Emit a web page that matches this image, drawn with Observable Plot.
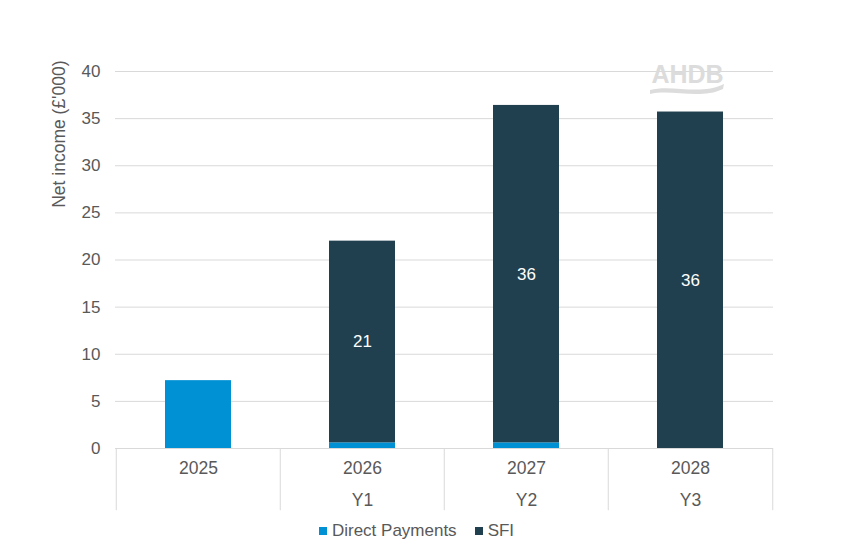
<!DOCTYPE html>
<html><head><meta charset="utf-8">
<script src="https://cdn.jsdelivr.net/npm/d3@7"></script>
<script src="https://cdn.jsdelivr.net/npm/@observablehq/plot@0.6"></script>
<style>
body{margin:0;background:#fff;font-family:Arial,"Liberation Sans",sans-serif;}
#legend{width:855px;display:flex;justify-content:center;align-items:center;gap:18px;font-size:17px;color:#595959;height:32px;margin-top:0px;transform:translateX(-11px);}
#legend span.sw{display:inline-block;width:8px;height:8px;margin-right:5px;}
#legend .item{display:flex;align-items:center;}
</style>
</head><body>
<div id="chart"></div>
<script>
// ---- data ----
const years = ["2025", "2026", "2027", "2028"];
const schemeYears = ["", "Y1", "Y2", "Y3"];
const seriesNames = ["Direct Payments", "SFI"];
const directPayments = [7.2, 0.6, 0.6, 0];
const sfi = [0, 21.4, 35.8, 35.7];
const yTicks = [0, 5, 10, 15, 20, 25, 30, 35, 40];
const colors = ["#0090d4", "#21404f"];

const rows = [];
years.forEach((y, i) => {
  rows.push({year: y, series: seriesNames[0], value: directPayments[i]});
  rows.push({year: y, series: seriesNames[1], value: sfi[i]});
});

const W = 855, H = 515, mL = 115, mR = 82, mT = 71, mB = 67;
const step = (W - mL - mR) / years.length;
const grey = "#d9d9d9", textGrey = "#595959";

const plot = Plot.plot({
  width: W, height: H,
  marginLeft: mL, marginRight: mR, marginTop: mT, marginBottom: mB,
  style: {fontFamily: "Arial, 'Liberation Sans', sans-serif", background: "white"},
  x: {domain: years, paddingInner: 0.6, paddingOuter: 0.3, axis: null},
  y: {domain: [0, 40], ticks: yTicks, label: null},
  color: {domain: seriesNames, range: colors},
  marks: [
    Plot.gridY(yTicks.filter(d => d > 0), {stroke: grey, strokeOpacity: 1, strokeWidth: 1}),
    Plot.axisY(yTicks, {tickSize: 0, tickPadding: 15, fontSize: 17, fill: textGrey, label: null}),
    Plot.barY(rows, Plot.stackY({x: "year", y: "value", fill: "series", order: seriesNames})),
    Plot.text(rows, Plot.stackY({x: "year", y: "value", z: "series", order: seriesNames,
      text: d => d.series === "SFI" && d.value > 0 ? String(Math.round(d.value)) : null,
      fill: "white", fontSize: 17})),
    Plot.ruleY([0], {stroke: grey, strokeWidth: 1}),
    // category separators
    Plot.ruleX(years, {x: d => d, dx: -step / 2, y1: 0, y2: -6.6, stroke: grey}),
    Plot.ruleX([years[years.length - 1]], {x: d => d, dx: step / 2, y1: 0, y2: -6.6, stroke: grey}),
    Plot.text(years, {x: d => d, y: 0, dy: 20, fontSize: 17.5, fill: textGrey}),
    Plot.text(schemeYears.map((s, i) => ({s, y: years[i]})), {x: "y", y: 0, dy: 52, text: "s", fontSize: 17.5, fill: textGrey}),
    // y axis title
    Plot.text(["Net income (£'000)"], {frameAnchor: "top-left", dx: -63, dy: -11, rotate: -90, textAnchor: "end", fontSize: 17.5, fill: textGrey}),
    // AHDB watermark
    Plot.text(["AHDB"], {frameAnchor: "top-right", dx: -86, dy: -6, fontSize: 25, fontWeight: "bold", fill: "#dcdcdc", textAnchor: "middle"})
  ]
});

// decorative swoosh under watermark
const ns = "http://www.w3.org/2000/svg";
const p = document.createElementNS(ns, "path");
p.setAttribute("d", "M650,90 C672,84 700,96 724,84 L723,89 C700,100 672,89 650,94 Z");
p.setAttribute("fill", "#dcdcdc");
plot.appendChild(p);

document.getElementById("chart").appendChild(plot);

const leg = document.createElement("div");
leg.id = "legend";
seriesNames.forEach((n, i) => {
  const it = document.createElement("div");
  it.className = "item";
  it.innerHTML = `<span class="sw" style="background:${colors[i]}"></span>${n}`;
  leg.appendChild(it);
});
document.getElementById("chart").appendChild(leg);
</script>
</body></html>
